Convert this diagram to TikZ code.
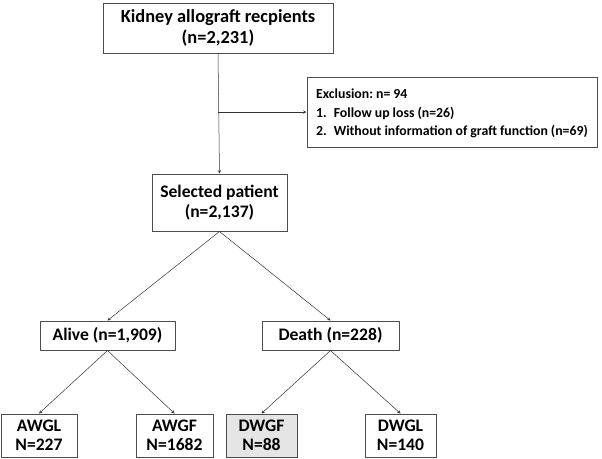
\documentclass[tikz,border=0pt]{standalone}
\usepackage{fontspec}
\setmainfont{Carlito}
\usepackage{tikz}
\frenchspacing

\newcommand{\exclfont}{\bfseries\fontsize{13.8}{18.5}\selectfont\spaceskip 0.22em\relax}

\tikzset{
	box/.style={draw=black!70, line width=1pt, fill=white, inner sep=0pt, align=center, font=\bfseries\fontsize{17.6}{20.5}\selectfont},
	link/.style={->, >=stealth, line width=0.5pt, draw=black!80}
}

\begin{document}
\begin{tikzpicture}[x=1pt,y=-1pt]
	  \useasboundingbox (0,0) rectangle (602,458);   % page frame

	  % top of the flow chart
	  \node[box, minimum width=230, minimum height=50, font=\bfseries\fontsize{18.4}{20.5}\selectfont] (recip) at (218,28) {Kidney allograft recpients\\(n=2,231)};
	  \node[box, minimum width=290, minimum height=70, align=left, font=\exclfont] (excl) at (452,112) {\strut Exclusion: n= 94\\1.\hspace{0.5em}Follow up loss (n=26)\\2.\hspace{0.5em}Without information of graft function (n=69)};
	  \node[box, minimum width=135, minimum height=57] (sel) at (219.5,202.5) {Selected patient\\(n=2,137)};

	  % alive / death
	  \node[box, minimum width=135, minimum height=29] (alive) at (107.5,335.5) {Alive (n=1,909)};
	  \node[box, minimum width=137, minimum height=29] (death) at (330.5,335.5) {Death (n=228)};

	  % graft outcome
	  \foreach \name/\cx/\w/\shade/\top/\bot in {awgl/39/76/white/AWGL/N=227, awgf/174.5/77/white/AWGF/N=1682, dwgf/261.5/71/black!10/DWGF/N=88, dwgl/400.5/71/white/DWGL/N=140}
	  \node[box, fill=\shade, minimum width=\w, minimum height=43, font=\bfseries\fontsize{17.6}{19}\selectfont] (\name) at (\cx,435.5) {\top\\\bot};

	  % connectors
	  \coordinate (split) at (recip.south |- excl.west);
	  \draw[link] (recip.south) -- (sel.north);
	  \draw[link] (split) -- (excl.west);

	  \draw[link] (sel.south) -- (alive.north);
	  \draw[link] (sel.south) -- (death.north);

	  \draw[link] (alive.south) -- (awgl.north);
	  \draw[link] (alive.south) -- (awgf.north);
	  \draw[link] (death.south) -- (dwgf.north);
	  \draw[link] (death.south) -- (dwgl.north);

\end{tikzpicture}
\end{document}
